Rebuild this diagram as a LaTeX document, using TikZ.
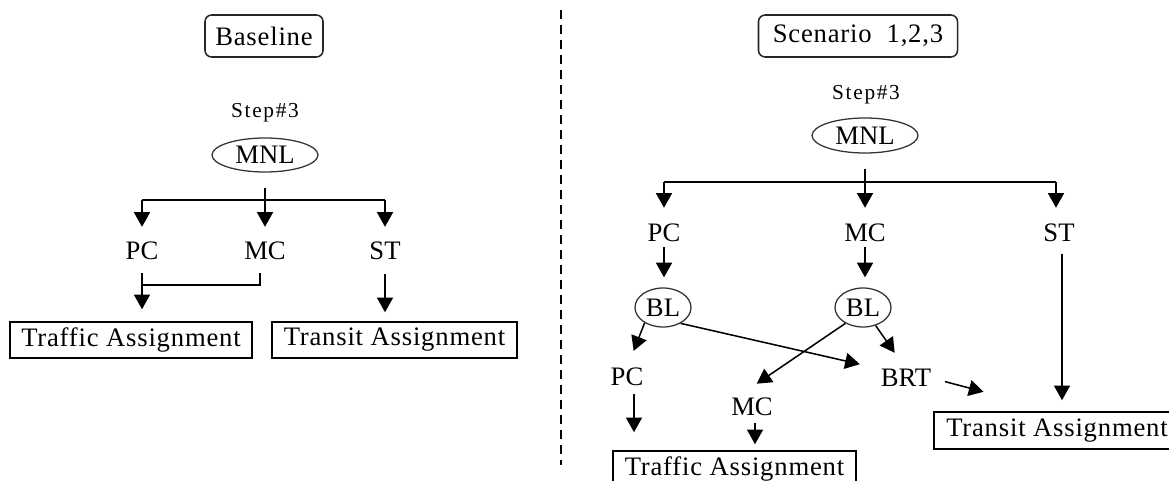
\documentclass[tikz,border=0pt]{standalone}
\usepackage{fontspec}
\setmainfont{Liberation Serif}
\newfontfamily\spacedfont{Liberation Serif}[LetterSpace=3]
\newfontfamily\stepfont{Liberation Serif}[LetterSpace=8]
\usetikzlibrary{shapes.geometric,arrows.meta}
\tikzset{
  lbl/.style={inner sep=0pt, font=\fontsize{20}{23}\selectfont},
  steplbl/.style={inner sep=0pt, font=\stepfont\fontsize{16}{19}\selectfont},
  bx/.style={draw, line width=1.15pt, inner sep=0pt, font=\spacedfont\fontsize{20}{23}\selectfont},
  rbx/.style={bx, rounded corners=5pt, draw=black!85},
  ell/.style={draw=black!80, ellipse, line width=0.95pt, inner sep=0pt, font=\fontsize{20}{23}\selectfont},
  ln/.style={line width=1.15pt},
  arr/.style={line width=1.15pt, -{Triangle[length=11pt,width=12pt]}},
  sep/.style={line width=1.4pt, dash pattern=on 6.75pt off 4.5pt}
}
\begin{document}
\begin{tikzpicture}[x=0.75pt,y=-0.75pt]
\useasboundingbox (0,0) rectangle (1169,481);

% ---------- left: baseline ----------
\node[rbx, minimum width=88.5pt, minimum height=31.5pt] (base) at (264,36) {Baseline};
\node[steplbl] (step1) at (265,113) {Step\#3};
\node[ell, minimum width=79.5pt, minimum height=25.5pt] (mnl1) at (265,155) {MNL};
\node[lbl] (pc1) at (142,251) {PC};
\node[lbl] (mc1) at (265,251) {MC};
\node[lbl] (st1) at (385,251) {ST};
\node[bx, minimum width=181.5pt, minimum height=27pt] (traf1) at (131,340) {Traffic Assignment};
\node[bx, minimum width=183.75pt, minimum height=27pt] (tran1) at (394.5,340) {Transit Assignment};

\coordinate (j1L) at (142,200);
\coordinate (j1R) at (385,200);
\coordinate (k1) at (142,285);
\draw[arr, shorten <=11.25pt, shorten >=11.2pt] (mnl1.south) -- (mc1.north);
\draw[ln] (j1L) -- (j1R);
\draw[arr, shorten >=11.2pt] (j1L) -- (pc1.north);
\draw[arr, shorten >=11.2pt] (j1R) -- (st1.north);
\draw[arr, shorten <=9.8pt, shorten >=9pt] (pc1.south) -- (pc1.south |- traf1.north);
\draw[ln, shorten <=9.8pt] ([xshift=-3.75pt]mc1.south) |- (k1);
\draw[arr, shorten <=10.6pt, shorten >=6.75pt] (st1.south) -- (st1.south |- tran1.north);

% ---------- separator ----------
\coordinate (d1) at (561,10);
\coordinate (d2) at (561,465);
\draw[sep] (d1) -- (d2);

% ---------- right: scenarios ----------
\node[rbx, minimum width=149.25pt, minimum height=31.5pt] (scen) at (858,36) {Scenario~~1,2,3};
\node[steplbl] (step2) at (866,95) {Step\#3};
\node[ell, minimum width=79.5pt, minimum height=26.25pt] (mnl2) at (865,135.5) {MNL};
\node[lbl] (pc2) at (664,233) {PC};
\node[lbl] (mc2) at (865,233) {MC};
\node[lbl] (st2) at (1059,233) {ST};
\node[ell, minimum width=42pt, minimum height=29.25pt] (bl1) at (663,307.5) {BL};
\node[ell, minimum width=42pt, minimum height=29.25pt] (bl2) at (863,307.5) {BL};
\node[lbl] (pc3) at (627,377) {PC};
\node[lbl] (mc3) at (752,407) {MC};
\node[lbl] (brt) at (906,378) {BRT};
\node[bx, minimum width=182.25pt, minimum height=27pt] (traf2) at (734.5,469) {Traffic Assignment};
\node[bx, minimum width=184.5pt, minimum height=27.75pt] (tran2) at (1057,430.5) {Transit Assignment};

\coordinate (j2L) at (664,182);
\coordinate (j2R) at (1056,182);
\draw[arr, shorten <=11.25pt, shorten >=12pt] (mnl2.south) -- (mc2.north);
\draw[ln] (j2L) -- (j2R);
\draw[arr, shorten >=12pt] (j2L) -- (pc2.north);
\draw[arr, shorten >=12pt] (j2R) -- (j2R |- st2.north);
\draw[arr, shorten <=3.8pt, shorten >=7.5pt] (pc2.south) -- (pc2.south |- bl1.north);
\draw[arr, shorten <=3.8pt, shorten >=7.5pt] (mc2.south) -- (mc2.south |- bl2.north);
\draw[arr, shorten <=9.1pt, shorten >=8.25pt] ([xshift=2.25pt]st2.south) -- ([xshift=2.25pt]st2.south |- tran2.north);
\draw[arr, shorten >=13.6pt] (bl1.220) -- (pc3.north);
\draw[arr, shorten >=16pt] (bl1.-42) -- (brt.north west);
\draw[arr, shorten >=18.8pt] (bl2.222) -- ([xshift=-12pt]mc3.north);
\draw[arr, shorten >=14.8pt] (bl2.-55) -- (brt.north);
\draw[arr, shorten <=10.5pt, shorten >=57pt] (brt.east) -- (tran2.north);
\draw[arr, shorten <=6.1pt, shorten >=13.5pt] ([xshift=5.25pt]pc3.south) -- ([xshift=5.25pt]pc3.south |- traf2.north);
\draw[arr, shorten <=5.3pt, shorten >=4.5pt] ([xshift=2.25pt]mc3.south) -- ([xshift=2.25pt]mc3.south |- traf2.north);
\end{tikzpicture}
\end{document}
